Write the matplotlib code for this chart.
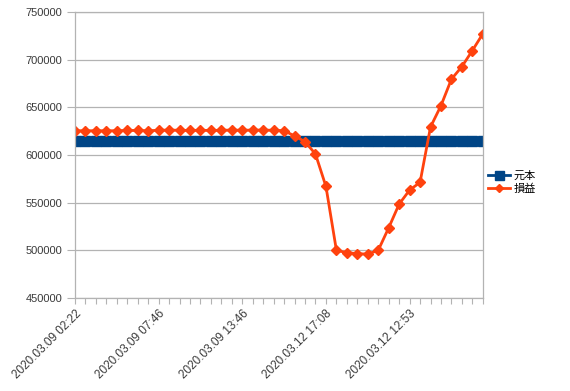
import matplotlib
matplotlib.use("Agg")
import matplotlib.pyplot as plt
from matplotlib.ticker import MultipleLocator
from matplotlib.transforms import ScaledTranslation

plt.rcParams['font.family'] = ['Liberation Sans', 'Noto Sans CJK JP', 'DejaVu Sans']

# data
tick_labels = ["2020.03.09 02:22", "2020.03.09 07:46", "2020.03.09 13:46",
               "2020.03.12 17:08", "2020.03.12 12:53"]
label_step = 8

principal = [615000] * 40

profit = [625500, 625500, 625500, 625500, 625500, 625800, 625800, 625500,
          626000, 626200, 626000, 625800, 626000, 625800, 626000, 626200,
          626000, 626200, 626200, 626000, 625500, 620000, 614000, 601000,
          567000, 500000, 497500, 496500, 496000, 500000, 523600, 548500,
          563200, 571300, 629400, 651800, 679600, 692800, 709600, 727200]

x = list(range(len(profit)))

fig = plt.figure(figsize=(5.7, 3.91), dpi=100)
ax = fig.add_axes([0.1316, 0.238, 0.7154, 0.731])

grid_col = '#b3b3b3'
ax.yaxis.set_major_locator(MultipleLocator(50000))
ax.set_ylim(450000, 750000)
ax.set_xlim(0, len(profit) - 1)
ax.grid(axis='y', color=grid_col, linewidth=0.9)
ax.set_axisbelow(True)

l1, = ax.plot(x, principal, color='#004586', linewidth=2, marker='s',
              markersize=7.2, label='元本')
l2, = ax.plot(x, profit, color='#ff420e', linewidth=2, marker='D',
              markersize=5, label='損益')

for s in ax.spines.values():
    s.set_color(grid_col)
    s.set_linewidth(0.9)

ax.set_xticks(x)
labels = [''] * len(x)
for i, t in enumerate(tick_labels):
    labels[i * label_step] = t
ax.set_xticklabels(labels, rotation=45, ha='right', va='top',
                   rotation_mode='anchor', fontsize=8.5, color='#3a3a3a')
# nudge labels so their end sits right under the tick
shift = ScaledTranslation(-4 / 100, 0, fig.dpi_scale_trans)
for lab in ax.get_xticklabels():
    lab.set_transform(lab.get_transform() + shift)
ax.tick_params(axis='x', length=4, color=grid_col, direction='out', pad=3)
ax.tick_params(axis='y', length=6, color=grid_col, direction='out',
               labelsize=8, labelcolor='#3a3a3a', pad=3)

fig.legend(handles=[l1, l2], loc='upper left', bbox_to_anchor=(0.838, 0.59),
           frameon=False, fontsize=8, handlelength=2.0, handletextpad=0.3,
           labelspacing=0.3, markerscale=0.9)

fig.savefig('out.png', dpi=100)
